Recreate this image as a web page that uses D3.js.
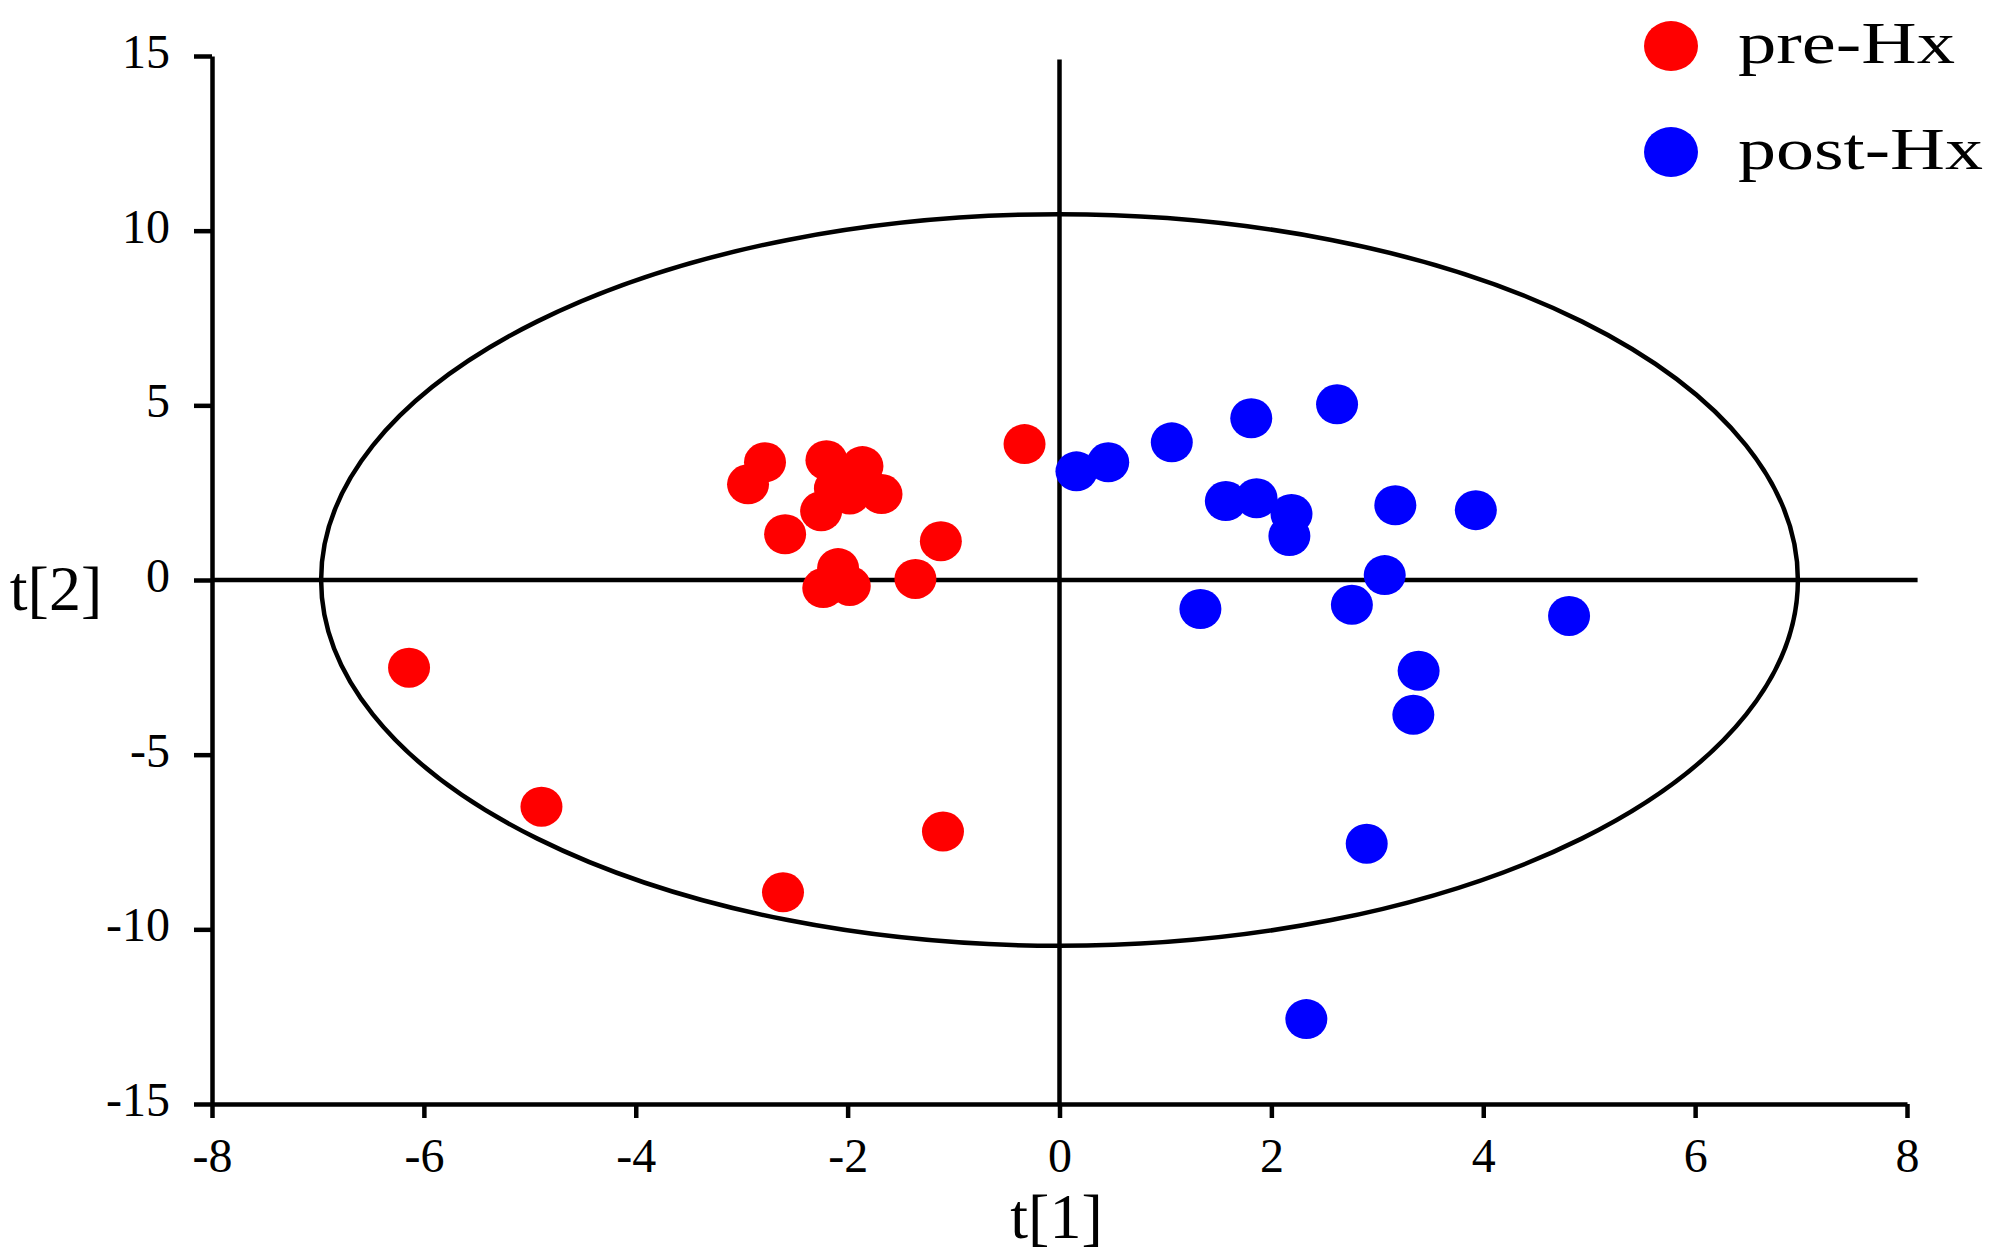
<!DOCTYPE html>
<html>
<head>
<meta charset="utf-8">
<script src="https://cdn.jsdelivr.net/npm/d3@7"></script>
<style>
    body { margin: 0; background: #fff; }
    svg { display: block; }
    text { font-family: "Liberation Serif", "Times New Roman", serif; fill: #000; }
</style>
</head>
<body>
<div id="chart"></div>
<script>
// score values, t[1] / t[2]
const preX  = [-0.33, -2.78, -2.94, -2.20, -1.86, -1.68, -2.12, -1.98, -2.25, -2.59, -1.12, -2.09, -2.23, -1.98, -1.36, -6.14, -4.89, -2.61, -1.10];
const preY  = [ 3.89,  3.37,  2.74,  3.43,  3.26,  2.46,  2.62,  2.45,  1.97,  1.31,  1.11,  0.34, -0.23, -0.17,  0.03, -2.51, -6.49, -8.94, -7.20];
const postX = [0.16, 0.46, 1.06, 1.81, 2.62, 1.57, 1.86, 2.19, 2.17, 3.17, 3.93, 3.07, 1.33, 2.76, 4.81, 3.39, 3.34, 2.90, 2.33];
const postY = [3.11, 3.37, 3.94, 4.63, 5.03, 2.26, 2.34, 1.89, 1.26, 2.14, 2.00, 0.14, -0.83, -0.71, -1.03, -2.60, -3.86, -7.55, -12.57];

const xTicks = [-8, -6, -4, -2, 0, 2, 4, 6, 8];
const yTicks = [-15, -10, -5, 0, 5, 10, 15];
const groups = ['pre-Hx', 'post-Hx'];
const groupColors = ['#ff0000', '#0000ff'];

// Hotelling T2 ellipse semi-axes (data units)
const ellipseT1 = 6.97;
const ellipseT2 = 10.47;

const width = 2000;
const height = 1255;
const lineW = 4.5;

const x = d3.scaleLinear().domain([-8, 8]).range([212, 1907]);
const y = d3.scaleLinear().domain([-15, 15]).range([1104, 56]);

const svg = d3.select('#chart')
    .append('svg')
    .attr('width', width)
    .attr('height', height);

svg.append('rect').attr('width', width).attr('height', height).attr('fill', '#fff');

// axes
const xAxis = svg.append('g')
    .attr('transform', `translate(0,${y(-15)})`)
    .call(d3.axisBottom(x).tickValues(xTicks).tickSize(14).tickSizeOuter(0).tickPadding(20).tickFormat(d => String(d)));

const yAxis = svg.append('g')
    .attr('transform', `translate(${x(-8)},0)`)
    .call(d3.axisLeft(y).tickValues(yTicks).tickSize(18).tickSizeOuter(0).tickPadding(24).tickFormat(d => String(d)));

[xAxis, yAxis].forEach(a => {
    a.selectAll('path, line').attr('stroke', '#000').attr('stroke-width', lineW);
    a.selectAll('text').attr('font-size', 48).attr('font-family', '"Liberation Serif", serif');
});
yAxis.selectAll('text').attr('dy', '0.24em');

// cross lines through origin
svg.append('line')
    .attr('x1', x(-8)).attr('x2', x(8.1))
    .attr('y1', y(0)).attr('y2', y(0))
    .attr('stroke', '#000').attr('stroke-width', lineW);
svg.append('line')
    .attr('x1', x(0)).attr('x2', x(0))
    .attr('y1', y(-15)).attr('y2', y(14.9))
    .attr('stroke', '#000').attr('stroke-width', lineW);

// confidence ellipse
svg.append('ellipse')
    .attr('cx', x(0)).attr('cy', y(0))
    .attr('rx', x(ellipseT1) - x(0))
    .attr('ry', y(0) - y(ellipseT2))
    .attr('fill', 'none')
    .attr('stroke', '#000')
    .attr('stroke-width', lineW);

// points
const series = [
    preX.map((v, i) => ({ t1: v, t2: preY[i], g: 0 })),
    postX.map((v, i) => ({ t1: v, t2: postY[i], g: 1 }))
];

series.forEach(pts => {
    svg.append('g')
        .selectAll('ellipse')
        .data(pts)
        .enter()
        .append('ellipse')
        .attr('cx', d => x(d.t1))
        .attr('cy', d => y(d.t2))
        .attr('rx', 21)
        .attr('ry', 20)
        .attr('fill', d => groupColors[d.g]);
});

// axis titles
svg.append('text')
    .attr('x', x(0) - 3).attr('y', 1238)
    .attr('text-anchor', 'middle')
    .attr('font-size', 64)
    .text('t[1]');
svg.append('text')
    .attr('x', 56).attr('y', 610)
    .attr('text-anchor', 'middle')
    .attr('font-size', 64)
    .text('t[2]');

// legend
const legendW = [217, 245];
const legend = svg.append('g');
groups.forEach((name, i) => {
    const cy = 46 + i * 106;
    legend.append('ellipse')
        .attr('cx', 1671).attr('cy', cy)
        .attr('rx', 27).attr('ry', 25)
        .attr('fill', groupColors[i]);
    legend.append('text')
        .attr('x', 1738).attr('y', cy + 17)
        .attr('font-size', 60)
        .attr('textLength', legendW[i])
        .attr('lengthAdjust', 'spacingAndGlyphs')
        .text(name);
});
</script>
</body>
</html>
